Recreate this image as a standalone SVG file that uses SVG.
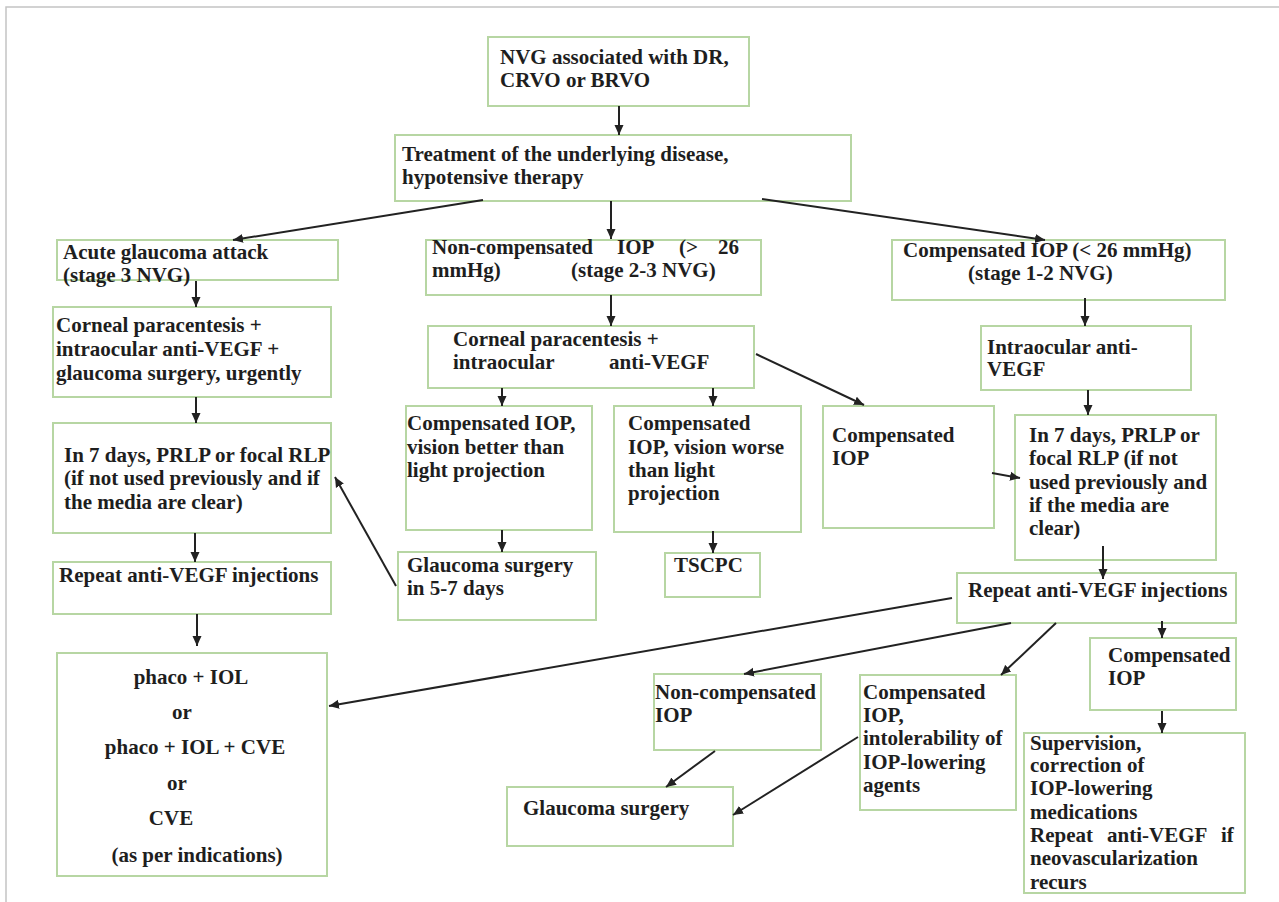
<svg xmlns="http://www.w3.org/2000/svg" width="1279" height="902" viewBox="0 0 1279 902">
<style>
.box{fill:#ffffff;stroke:#b7d6a3;stroke-width:2}
.t{font-family:"Liberation Serif","Times New Roman",serif;font-weight:bold;font-size:21px;fill:#1e1e1e}
.c{stroke:#222;stroke-width:2;fill:none;marker-end:url(#ah)}
</style>
<defs>
<marker id="ah" markerUnits="userSpaceOnUse" markerWidth="10" markerHeight="10" refX="10" refY="5" orient="auto">
<path d="M0,0.5 L10,5 L0,9.5 z" fill="#222"/>
</marker>
</defs>
<rect x="0" y="0" width="1279" height="902" fill="#ffffff"/>
<path d="M6,902 V7 H1279" fill="none" stroke="#c4c4c4" stroke-width="1.5"/>

<g id="n-nvg"><rect class="box" x="488" y="37" width="261" height="69"/>
<text class="t" x="500" y="64">NVG associated with DR,</text>
<text class="t" x="500" y="87">CRVO or BRVO</text></g>

<g id="n-treat"><rect class="box" x="395" y="135" width="456" height="66"/>
<text class="t" x="402" y="161">Treatment of the underlying disease,</text>
<text class="t" x="402" y="184">hypotensive therapy</text></g>

<g id="n-acute"><rect class="box" x="57" y="240" width="281" height="40"/>
<text class="t" x="63" y="259">Acute glaucoma attack</text>
<text class="t" x="63" y="282">(stage 3 NVG)</text></g>

<g id="n-noncomp"><rect class="box" x="426" y="240" width="335" height="55"/>
<text class="t" x="432" y="254">Non-compensated</text>
<text class="t" x="617" y="254">IOP</text>
<text class="t" x="679" y="254">(&gt;</text>
<text class="t" x="718" y="254">26</text>
<text class="t" x="432" y="277">mmHg)</text>
<text class="t" x="571" y="277">(stage 2-3 NVG)</text></g>

<g id="n-comp"><rect class="box" x="892" y="240" width="333" height="60"/>
<text class="t" x="903" y="257">Compensated IOP (&lt; 26 mmHg)</text>
<text class="t" x="968" y="280">(stage 1-2 NVG)</text></g>

<g id="n-corneal-left"><rect class="box" x="53" y="307" width="278" height="90"/>
<text class="t" x="56" y="332">Corneal paracentesis +</text>
<text class="t" x="56" y="356">intraocular anti-VEGF +</text>
<text class="t" x="56" y="380">glaucoma surgery, urgently</text></g>

<g id="n-7days-left"><rect class="box" x="53" y="423" width="278" height="110"/>
<text class="t" x="64" y="462">In 7 days, PRLP or focal RLP</text>
<text class="t" x="64" y="485">(if not used previously and if</text>
<text class="t" x="64" y="509">the media are clear)</text></g>

<g id="n-repeat-left"><rect class="box" x="53" y="562" width="278" height="52"/>
<text class="t" x="59" y="582">Repeat anti-VEGF injections</text></g>

<g id="n-phaco"><rect class="box" x="57" y="653" width="270" height="223"/>
<text class="t" x="191" y="684" text-anchor="middle">phaco + IOL</text>
<text class="t" x="182" y="719" text-anchor="middle">or</text>
<text class="t" x="195" y="754" text-anchor="middle">phaco + IOL + CVE</text>
<text class="t" x="177" y="790" text-anchor="middle">or</text>
<text class="t" x="171" y="825" text-anchor="middle">CVE</text>
<text class="t" x="197" y="862" text-anchor="middle">(as per indications)</text></g>

<g id="n-corneal-mid"><rect class="box" x="428" y="326" width="326" height="62"/>
<text class="t" x="453" y="346">Corneal paracentesis +</text>
<text class="t" x="453" y="369">intraocular</text>
<text class="t" x="609" y="369">anti-VEGF</text></g>

<g id="n-better"><rect class="box" x="406" y="406" width="186" height="124"/>
<text class="t" x="407" y="430">Compensated IOP,</text>
<text class="t" x="407" y="454">vision better than</text>
<text class="t" x="407" y="477">light projection</text></g>

<g id="n-gs57"><rect class="box" x="398" y="552" width="198" height="68"/>
<text class="t" x="407" y="572">Glaucoma surgery</text>
<text class="t" x="407" y="595">in 5-7 days</text></g>

<g id="n-worse"><rect class="box" x="614" y="406" width="187" height="126"/>
<text class="t" x="628" y="430">Compensated</text>
<text class="t" x="628" y="454">IOP, vision worse</text>
<text class="t" x="628" y="477">than light</text>
<text class="t" x="628" y="500">projection</text></g>

<g id="n-tscpc"><rect class="box" x="665" y="553" width="95" height="44"/>
<text class="t" x="674" y="572">TSCPC</text></g>

<g id="n-comp-mid"><rect class="box" x="823" y="406" width="171" height="122"/>
<text class="t" x="832" y="442">Compensated</text>
<text class="t" x="832" y="465">IOP</text></g>

<g id="n-intraocular"><rect class="box" x="981" y="326" width="210" height="64"/>
<text class="t" x="987" y="354">Intraocular anti-</text>
<text class="t" x="987" y="376">VEGF</text></g>

<g id="n-7days-right"><rect class="box" x="1015" y="415" width="201" height="145"/>
<text class="t" x="1029" y="442">In 7 days, PRLP or</text>
<text class="t" x="1029" y="465">focal RLP (if not</text>
<text class="t" x="1029" y="489">used previously and</text>
<text class="t" x="1029" y="512">if the media are</text>
<text class="t" x="1029" y="535">clear)</text></g>

<g id="n-repeat-right"><rect class="box" x="957" y="573" width="279" height="50"/>
<text class="t" x="968" y="597">Repeat anti-VEGF injections</text></g>

<g id="n-noncomp-bottom"><rect class="box" x="654" y="674" width="167" height="76"/>
<text class="t" x="655" y="699">Non-compensated</text>
<text class="t" x="655" y="722">IOP</text></g>

<g id="n-intolerability"><rect class="box" x="860" y="675" width="156" height="135"/>
<text class="t" x="863" y="699">Compensated</text>
<text class="t" x="863" y="722">IOP,</text>
<text class="t" x="863" y="745">intolerability of</text>
<text class="t" x="863" y="769">IOP-lowering</text>
<text class="t" x="863" y="792">agents</text></g>

<g id="n-gs-bottom"><rect class="box" x="507" y="787" width="226" height="59"/>
<text class="t" x="523" y="815">Glaucoma surgery</text></g>

<g id="n-comp-right"><rect class="box" x="1090" y="638" width="146" height="72"/>
<text class="t" x="1108" y="662">Compensated</text>
<text class="t" x="1108" y="685">IOP</text></g>

<g id="n-supervision"><rect class="box" x="1024" y="733" width="221" height="160"/>
<text class="t" x="1030" y="750">Supervision,</text>
<text class="t" x="1030" y="772">correction of</text>
<text class="t" x="1030" y="795">IOP-lowering</text>
<text class="t" x="1030" y="819">medications</text>
<text class="t" x="1030" y="842">Repeat</text>
<text class="t" x="1107" y="842">anti-VEGF</text>
<text class="t" x="1221" y="842">if</text>
<text class="t" x="1030" y="865">neovascularization</text>
<text class="t" x="1030" y="889">recurs</text></g>

<g id="connectors">
<line class="c" x1="619" y1="106" x2="619" y2="135"/>
<line class="c" x1="483" y1="200" x2="233" y2="240"/>
<line class="c" x1="611" y1="201" x2="611" y2="239"/>
<line class="c" x1="762" y1="199" x2="1045" y2="240"/>
<line class="c" x1="196" y1="281" x2="196" y2="307"/>
<line class="c" x1="196" y1="397" x2="196" y2="423"/>
<line class="c" x1="195" y1="533" x2="195" y2="562"/>
<line class="c" x1="197" y1="614" x2="197" y2="646"/>
<line class="c" x1="611" y1="295" x2="611" y2="326"/>
<line class="c" x1="502" y1="388" x2="502" y2="406"/>
<line class="c" x1="502" y1="530" x2="502" y2="552"/>
<line class="c" x1="396" y1="586" x2="335" y2="477"/>
<line class="c" x1="713" y1="388" x2="713" y2="406"/>
<line class="c" x1="713" y1="531" x2="713" y2="553"/>
<line class="c" x1="756" y1="354" x2="864" y2="405"/>
<line class="c" x1="992" y1="473" x2="1020" y2="478"/>
<line class="c" x1="1085" y1="298" x2="1085" y2="326"/>
<line class="c" x1="1088" y1="390" x2="1088" y2="415"/>
<line class="c" x1="1103" y1="546" x2="1103" y2="579"/>
<line class="c" x1="952" y1="598" x2="329" y2="706"/>
<line class="c" x1="1011" y1="623" x2="744" y2="674"/>
<line class="c" x1="1056" y1="623" x2="1001" y2="675"/>
<line class="c" x1="1162" y1="621" x2="1162" y2="638"/>
<line class="c" x1="1162" y1="711" x2="1162" y2="733"/>
<line class="c" x1="715" y1="751" x2="666" y2="787"/>
<line class="c" x1="858" y1="737" x2="733" y2="815"/>
</g>
</svg>
